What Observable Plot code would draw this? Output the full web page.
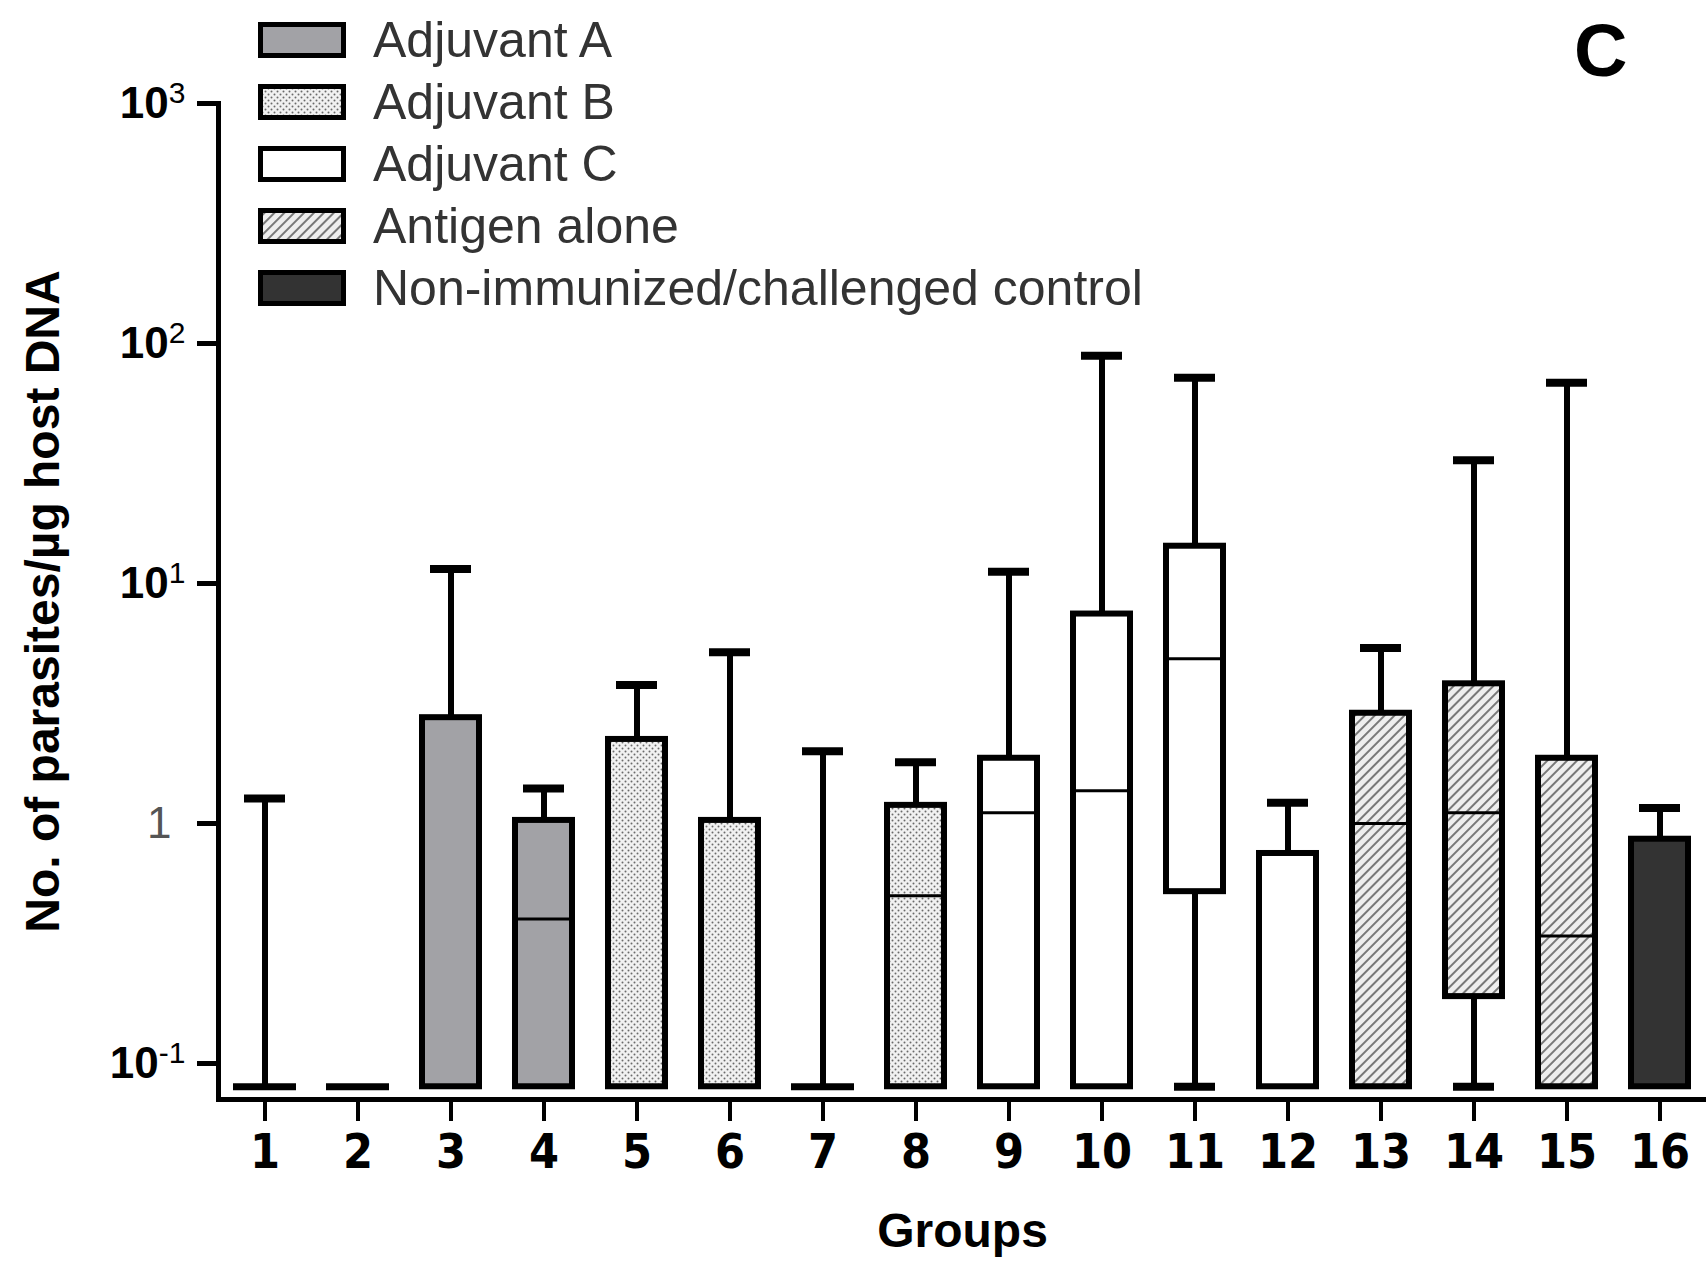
<!DOCTYPE html>
<html>
<head>
<meta charset="utf-8">
<script src="https://cdn.jsdelivr.net/npm/d3@7"></script>
<script src="https://cdn.jsdelivr.net/npm/@observablehq/plot@0.6"></script>
<style>
  body { margin: 0; background: #fff; }
  #wrap { position: relative; width: 1706px; height: 1261px; overflow: hidden; background: #fff;
          font-family: "Liberation Sans", Arial, sans-serif; }
  #chart { position: absolute; left: 0; top: 0; }
  #legend { position: absolute; left: 258px; top: 9px; }
  .row { display: flex; align-items: center; height: 62px; }
  .row svg { margin-right: 27px; flex: none; }
  .row span { font-size: 50px; line-height: 1; color: #333; white-space: nowrap; }
  #panel { position: absolute; left: 1574px; top: 14px; font-size: 74px; font-weight: bold; line-height: 1; color: #000; }
  #defs { position: absolute; width: 0; height: 0; }
</style>
</head>
<body>
<div id="wrap">
  <svg id="defs" width="0" height="0">
    <defs>
      <pattern id="dots" width="6" height="6" patternUnits="userSpaceOnUse">
        <rect width="6" height="6" fill="#f1f1f1"></rect>
        <circle cx="1.5" cy="1.5" r="1" fill="#6a6a6a"></circle>
        <circle cx="4.5" cy="4.5" r="1" fill="#6a6a6a"></circle>
      </pattern>
      <pattern id="hatch" width="7" height="7" patternUnits="userSpaceOnUse" patternTransform="rotate(45)">
        <rect width="7" height="7" fill="#eeeeee"></rect>
        <line x1="1" y1="0" x2="1" y2="7" stroke="#787878" stroke-width="2"></line>
      </pattern>
    </defs>
  </svg>
  <div id="chart"></div>
  <div id="legend"></div>
  <div id="panel">C</div>
</div>
<script>
// ---------- data ----------
const groups = ["1","2","3","4","5","6","7","8","9","10","11","12","13","14","15","16"];
const treatment = [
  "Adjuvant A","Adjuvant A","Adjuvant A","Adjuvant A",
  "Adjuvant B","Adjuvant B","Adjuvant B","Adjuvant B",
  "Adjuvant C","Adjuvant C","Adjuvant C","Adjuvant C",
  "Antigen alone","Antigen alone","Antigen alone",
  "Non-immunized/challenged control"
];
const whiskerMin = [0.08,0.08,0.08,0.08,0.08,0.08,0.08,0.08,0.08,0.08,0.08,0.08,0.08,0.08,0.08,0.08];
const boxLow     = [0.08,0.08,0.08,0.08,0.08,0.08,0.08,0.08,0.08,0.08,0.52,0.08,0.08,0.19,0.08,0.08];
const median     = [null,null,null,0.40,null,null,null,0.50,1.11,1.37,4.86,null,1.0,1.11,0.34,null];
const boxHigh    = [0.08,0.08,2.76,1.03,2.24,1.03,0.08,1.19,1.87,7.46,14.3,0.75,2.88,3.82,1.87,0.86];
const whiskerMax = [1.27,0.08,11.5,1.40,3.78,5.17,2.0,1.80,11.2,89,72,1.22,5.39,32.6,68.6,1.16];

const treatments = ["Adjuvant A","Adjuvant B","Adjuvant C","Antigen alone","Non-immunized/challenged control"];
const fills = ["#a2a2a6","url(#dots)","#ffffff","url(#hatch)","#333333"];

const yTickValues = [0.1, 1, 10, 100, 1000];
const yTickBase   = ["10", "1", "10", "10", "10"];
const yTickExp    = ["-1", "", "1", "2", "3"];
const yDomain = [0.0708, 1000];

const xLabel = "Groups";
const yLabel = "No. of parasites/µg host DNA";

const data = groups.map((g, i) => ({
  group: g, type: treatment[i], min: whiskerMin[i], q1: boxLow[i],
  med: median[i], q3: boxHigh[i], max: whiskerMax[i]
}));

// ---------- chart ----------
const chart = Plot.plot({
  width: 1706, height: 1261,
  marginTop: 103, marginBottom: 162, marginLeft: 218, marginRight: 0,
  style: { fontFamily: "'Liberation Sans', Arial, sans-serif", background: "#fff", color: "#000" },
  x: { type: "band", domain: groups, padding: 0 },
  y: { type: "log", domain: yDomain },
  color: { type: "ordinal", domain: treatments, range: fills },
  marks: [
    Plot.ruleX(data.filter(d => d.max > d.q3), { x: "group", y1: "q3", y2: "max", stroke: "#000", strokeWidth: 6 }),
    Plot.ruleX(data.filter(d => d.min < d.q1), { x: "group", y1: "min", y2: "q1", stroke: "#000", strokeWidth: 6 }),
    Plot.tickY(data.filter(d => d.max > d.q3), { x: "group", y: "max", stroke: "#000", strokeWidth: 8, insetLeft: 26, insetRight: 26 }),
    Plot.tickY(data.filter(d => d.min < d.q1), { x: "group", y: "min", stroke: "#000", strokeWidth: 8, insetLeft: 26, insetRight: 26 }),
    Plot.barY(data.filter(d => d.q3 > d.q1), { x: "group", y1: "q1", y2: "q3", fill: "type", stroke: "#000", strokeWidth: 6, insetLeft: 18, insetRight: 18 }),
    Plot.tickY(data.filter(d => d.q3 <= d.q1), { x: "group", y: "q1", stroke: "#000", strokeWidth: 7, insetLeft: 15, insetRight: 15 }),
    Plot.tickY(data.filter(d => d.med != null), { x: "group", y: "med", stroke: "#000", strokeWidth: 3, insetLeft: 18, insetRight: 18 }),
    Plot.frame({ anchor: "left", stroke: "#000", strokeWidth: 5 }),
    Plot.frame({ anchor: "bottom", stroke: "#000", strokeWidth: 5 }),
    Plot.axisY({
      ticks: yTickValues,
      tickFormat: v => { const i = yTickValues.indexOf(v); return yTickBase[i] + (yTickExp[i] ? "^" + yTickExp[i] : ""); },
      tickSize: 21, tickPadding: 12, strokeWidth: 5,
      fontSize: 44, fontWeight: "bold",
      label: yLabel, labelAnchor: "center", labelOffset: 194, labelArrow: "none"
    }),
    Plot.axisX({
      tickSize: 22, tickPadding: 12, strokeWidth: 4,
      fontSize: 48, fontWeight: "bold",
      fontFamily: "'Liberation Sans Narrow', 'DejaVu Sans Condensed', 'Liberation Sans', sans-serif",
      label: xLabel, labelAnchor: "center", labelOffset: 147, labelArrow: "none"
    })
  ]
});
document.getElementById("chart").appendChild(chart);

// superscript exponents and styling of tick labels
chart.querySelectorAll('g[aria-label="y-axis tick label"] text').forEach(t => {
  const s = t.textContent;
  if (s.includes("^")) {
    const [b, e] = s.split("^");
    t.textContent = "";
    const tb = document.createElementNS("http://www.w3.org/2000/svg", "tspan");
    tb.textContent = b;
    const te = document.createElementNS("http://www.w3.org/2000/svg", "tspan");
    te.textContent = e;
    te.setAttribute("font-size", "30");
    te.setAttribute("font-weight", "normal");
    te.setAttribute("dy", "-0.5em");
    t.appendChild(tb); t.appendChild(te);
  } else {
    t.setAttribute("font-weight", "normal");
    t.setAttribute("fill", "#555");
    t.setAttribute("dx", "-14");
  }
});
chart.querySelectorAll('g[aria-label="y-axis label"] text').forEach(t => {
  t.setAttribute("font-size", "48"); t.setAttribute("font-weight", "900");
});
chart.querySelectorAll('g[aria-label="x-axis label"] text').forEach(t => {
  t.setAttribute("font-family", "'Liberation Sans', Arial, sans-serif");
  t.setAttribute("font-size", "48"); t.setAttribute("font-weight", "900");
});

// ---------- legend ----------
const legend = document.getElementById("legend");
treatments.forEach((name, i) => {
  const row = document.createElement("div");
  row.className = "row";
  row.innerHTML = `<svg width="88" height="36"><rect x="2.5" y="2.5" width="83" height="31" fill="${fills[i]}" stroke="#000" stroke-width="5"></rect></svg><span></span>`;
  row.querySelector("span").textContent = name;
  legend.appendChild(row);
});
</script>
</body>
</html>
